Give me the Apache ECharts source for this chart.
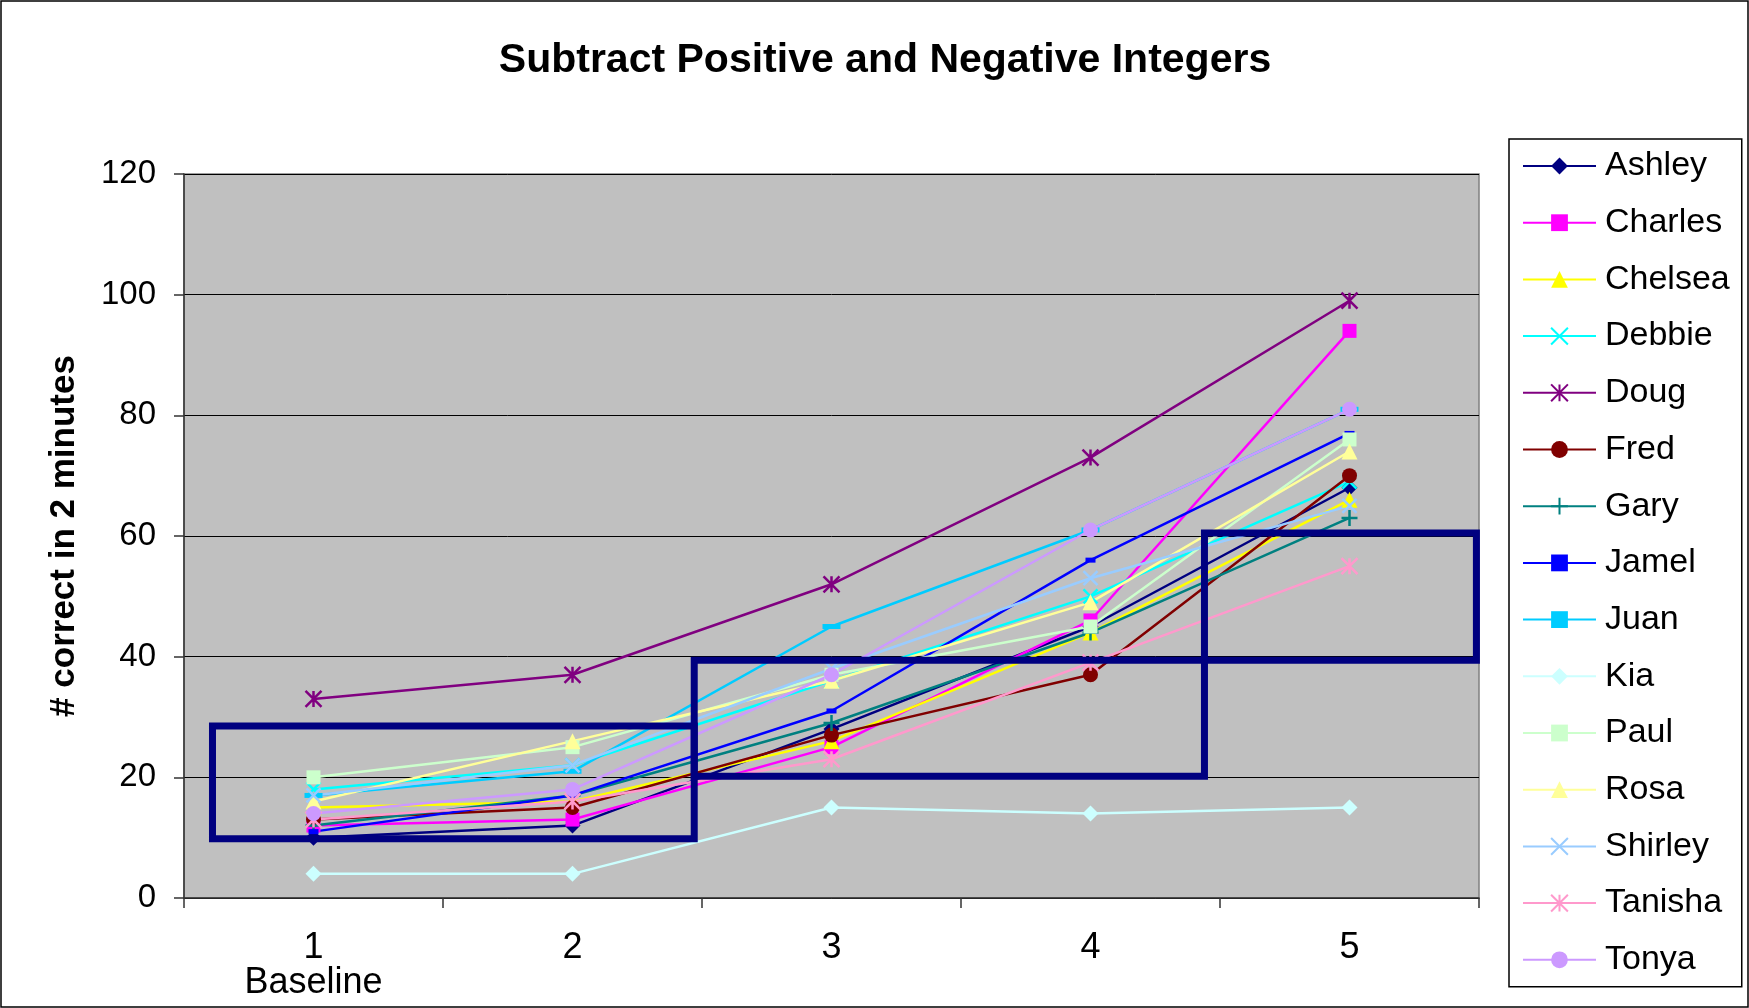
<!DOCTYPE html>
<html>
<head>
<meta charset="utf-8">
<script src="https://cdn.jsdelivr.net/npm/echarts@6/dist/echarts.min.js"></script>
<style>
  html, body { margin: 0; padding: 0; background: #fff; }
  #chart { width: 1749px; height: 1008px; }
</style>
</head>
<body>
<div id="chart"></div>
<script>
// sessions on the x axis
const sessions = ['1\nBaseline', '2', '3', '4', '5']
const yTicks = [0, 20, 40, 60, 80, 100, 120]

// # correct in 2 minutes, one array per student
const ashley = [10, 12, 28, 45, 68]
const charles = [12, 13, 25, 46, 94]
const chelsea = [15, 16, 26, 44, 66]
const debbie = [18, 22, 36, 50, 69]
const doug = [33, 37, 52, 73, 99]
const fred = [13, 15, 27, 37, 70]
const gary = [12, 17, 29, 44, 63]
const jamel = [11, 17, 31, 56, 77]
const juan = [17, 21, 45, 61, 81]
const kia = [4, 4, 15, 14, 15]
const paul = [20, 25, 37, 45, 76]
const rosa = [16, 26, 36, 49, 74]
const shirley = [17, 22, 38, 53, 65]
const tanisha = [13, 16, 23, 39, 55]
const tonya = [14, 18, 37, 61, 81]

// goal boxes (x in session index units, y in # correct)
const boxX = [[-0.39, 1.47], [1.47, 3.44], [3.44, 4.49]]
const boxY = [[9.8, 28.5], [20.2, 39.4], [39.4, 60.5]]

const FONT = '"Liberation Sans", Arial, sans-serif'

const X_SYM = 'path://M0 0L10 10M10 0L0 10'
const STAR_SYM = 'path://M5 0L5 10M0 0L10 10M10 0L0 10'
const PLUS_SYM = 'path://M5 0L5 10M0 5L10 5'

const students = [
  { name: 'Ashley', data: ashley, color: '#000080', symbol: 'diamond', size: 16 },
  { name: 'Charles', data: charles, color: '#FF00FF', symbol: 'rect', size: 14 },
  { name: 'Chelsea', data: chelsea, color: '#FFFF00', symbol: 'triangle', size: 16 },
  { name: 'Debbie', data: debbie, color: '#00FFFF', symbol: X_SYM, size: 14, stroke: true },
  { name: 'Doug', data: doug, color: '#800080', symbol: STAR_SYM, size: 16, stroke: true },
  { name: 'Fred', data: fred, color: '#800000', symbol: 'circle', size: 15 },
  { name: 'Gary', data: gary, color: '#008080', symbol: PLUS_SYM, size: 16, stroke: true },
  { name: 'Jamel', data: jamel, color: '#0000FF', symbol: 'rect', size: [10, 5] },
  { name: 'Juan', data: juan, color: '#00CCFF', symbol: 'rect', size: [18, 5] },
  { name: 'Kia', data: kia, color: '#CCFFFF', symbol: 'diamond', size: 16 },
  { name: 'Paul', data: paul, color: '#CCFFCC', symbol: 'rect', size: 14 },
  { name: 'Rosa', data: rosa, color: '#FFFF99', symbol: 'triangle', size: 16 },
  { name: 'Shirley', data: shirley, color: '#99CCFF', symbol: X_SYM, size: 14, stroke: true },
  { name: 'Tanisha', data: tanisha, color: '#FF99CC', symbol: STAR_SYM, size: 16, stroke: true },
  { name: 'Tonya', data: tonya, color: '#CC99FF', symbol: 'circle', size: 15 }
]

const lineSeries = students.map(s => ({
  name: s.name,
  type: 'line',
  data: s.data,
  symbol: s.symbol,
  symbolSize: s.size,
  showSymbol: true,
  showAllSymbol: true,
  lineStyle: { color: s.color, width: 2.5 },
  itemStyle: s.stroke
    ? { color: s.color, borderColor: s.color, borderWidth: 2.5 }
    : { color: s.color, borderWidth: 0 },
  emphasis: { disabled: true },
  animation: false
}))

const boxSeries = boxX.map((bx, i) => {
  const by = boxY[i]
  return {
    name: 'box' + i,
    type: 'line',
    xAxisIndex: 1,
    yAxisIndex: 0,
    data: [[bx[0], by[0]], [bx[1], by[0]], [bx[1], by[1]], [bx[0], by[1]], [bx[0], by[0]]],
    symbol: 'none',
    silent: true,
    clip: false,
    z: 10,
    lineStyle: { color: '#000080', width: 7, cap: 'square', join: 'miter' },
    animation: false
  }
})

const chart = echarts.init(document.getElementById('chart'))
chart.setOption({
  backgroundColor: '#fff',
  animation: false,
  title: {
    text: 'Subtract Positive and Negative Integers',
    left: 880,
    top: 35,
    textAlign: 'center',
    textStyle: { fontFamily: FONT, fontSize: 41, fontWeight: 'bold', color: '#000' }
  },
  grid: {
    left: 184, right: 270, top: 174, bottom: 110,
    show: true, backgroundColor: '#C0C0C0', borderColor: '#808080', borderWidth: 1.5
  },
  legend: {
    orient: 'vertical',
    left: 1509,
    top: 139,
    data: students.map(s => s.name),
    itemWidth: 73,
    itemHeight: 21,
    itemGap: 16.7,
    padding: [7, 12, 7, 13],
    borderColor: '#000',
    borderWidth: 1.5,
    backgroundColor: '#fff',
    selectedMode: false,
    textStyle: { fontFamily: FONT, fontSize: 34, color: '#000', lineHeight: 40, padding: [0, 0, 0, 4] }
  },
  xAxis: [
    {
      type: 'category',
      data: sessions,
      boundaryGap: true,
      axisLine: { show: true, lineStyle: { color: '#333', width: 1.5 } },
      axisTick: { show: true, length: 10, interval: 0, lineStyle: { color: '#333', width: 1.5 } },
      axisLabel: { fontFamily: FONT, fontSize: 36, color: '#000', margin: 33, lineHeight: 35, interval: 0 },
      splitLine: { show: false }
    },
    { type: 'value', min: -0.5, max: 4.5, show: false }
  ],
  yAxis: {
    type: 'value',
    min: yTicks[0],
    max: yTicks[yTicks.length - 1],
    interval: 20,
    name: '# correct in 2 minutes',
    nameLocation: 'middle',
    nameGap: 102,
    nameRotate: 90,
    nameTextStyle: { fontFamily: FONT, fontSize: 35, fontWeight: 'bold', color: '#000' },
    axisLine: { show: true, onZero: false, lineStyle: { color: '#333', width: 1.5 } },
    axisTick: { show: true, length: 10, lineStyle: { color: '#333', width: 1.5 } },
    axisLabel: { fontFamily: FONT, fontSize: 33, color: '#000', margin: 28 },
    splitLine: { show: true, lineStyle: { color: '#000', width: 1 } }
  },
  graphic: [{
    type: 'rect',
    shape: { x: 1, y: 1, width: 1747, height: 1006 },
    style: { fill: 'none', stroke: '#000', lineWidth: 1.5 },
    silent: true
  }],
  series: lineSeries.concat(boxSeries)
})
</script>
</body>
</html>
